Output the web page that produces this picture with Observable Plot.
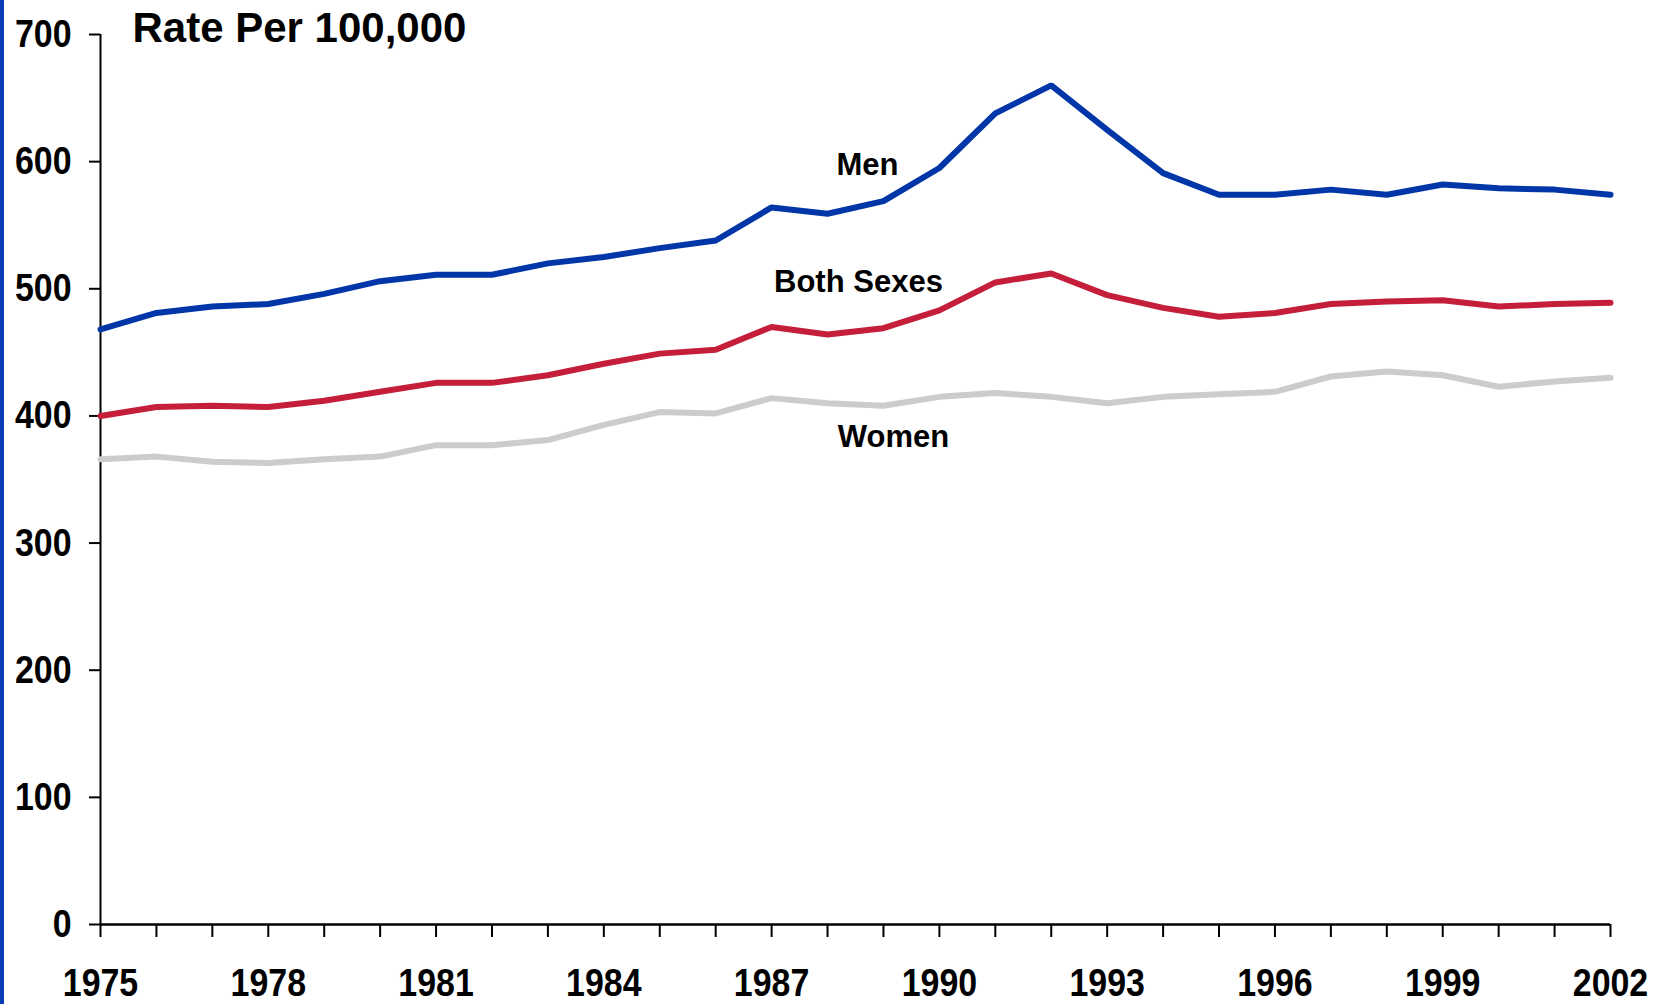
<!DOCTYPE html>
<html>
<head>
<meta charset="utf-8">
<script src="https://cdn.jsdelivr.net/npm/d3@7"></script>
<script src="https://cdn.jsdelivr.net/npm/@observablehq/plot@0.6"></script>
<style>
  html, body { margin: 0; padding: 0; background: #fff; }
  #wrap { position: relative; width: 1669px; height: 1004px; overflow: hidden; }
  #bar { position: absolute; left: 0; top: 0; width: 4px; height: 1004px; background: #0a3cb4; }
  #chart { position: absolute; left: 0; top: 0; }
</style>
</head>
<body>
<div id="wrap"><div id="bar"></div><div id="chart"></div></div>
<script>
const years = d3.range(1975, 2003);
const men   = [468,481,486,488,496,506,511,511,520,525,532,538,564,559,569,595,638,660,625,591,574,574,578,574,582,579,578,574];
const both  = [400,407,408,407,412,419,426,426,432,441,449,452,470,464,469,483,505,512,495,485,478,481,488,490,491,486,488,489];
const women = [366,368,364,363,366,368,377,377,381,393,403,402,414,410,408,415,418,415,410,415,417,419,431,435,432,423,427,430];
const seriesNames = ["Men", "Both Sexes", "Women"];
const yTicks = [0, 100, 200, 300, 400, 500, 600, 700];
const titleText = "Rate Per 100,000";
const labelYear = 1989;

const seriesValues = [men, both, women];
const colors = {"Men": "#0036a8", "Both Sexes": "#c41e3a", "Women": "#cccccc"};
const labelOffsets = {"Men": [-16, -26], "Both Sexes": [-25, -36], "Women": [10, 41]};

const rows = [];
seriesNames.forEach((s, i) => years.forEach((yr, j) => rows.push({series: s, year: yr, value: seriesValues[i][j]})));
const labelRows = seriesNames.map((s, i) => ({series: s, year: labelYear, value: seriesValues[i][years.indexOf(labelYear)]}));

const sans = "'Liberation Sans', Arial, Helvetica, sans-serif";
const tickFont = 39;
const condense = 0.87;

const chart = Plot.plot({
  width: 1669,
  height: 1004,
  marginLeft: 100,
  marginRight: 59,
  marginTop: 34,
  marginBottom: 80,
  style: {background: "transparent", color: "#000", overflow: "visible"},
  x: {domain: [1975, 2002], type: "linear"},
  y: {domain: [0, 700]},
  marks: [
    Plot.axisY({ticks: yTicks, tickSize: 11, tickPadding: 18, tickFormat: d => String(d),
      fontSize: tickFont, fontWeight: "bold", fontFamily: sans, stroke: "#000", strokeWidth: 2, label: null}),
    Plot.axisX({ticks: years, tickSize: 13, tickPadding: 31, tickFormat: d => ((d - 1975) % 3 === 0 ? String(d) : ""),
      fontSize: tickFont, fontWeight: "bold", fontFamily: sans, stroke: "#000", strokeWidth: 2, label: null}),
    Plot.ruleX([1975], {y1: 0, y2: 700, stroke: "#000", strokeWidth: 2}),
    Plot.ruleY([0], {stroke: "#000", strokeWidth: 2.5}),
    ...seriesNames.slice().reverse().map(s =>
      Plot.line(rows.filter(r => r.series === s), {x: "year", y: "value", stroke: colors[s], strokeWidth: 6, strokeLinejoin: "miter", strokeLinecap: "round"})
    ),
    ...labelRows.map(r =>
      Plot.text([r], {x: "year", y: "value", text: "series", dx: labelOffsets[r.series][0], dy: labelOffsets[r.series][1],
        lineAnchor: "bottom", textAnchor: "middle", fontSize: 31, fontWeight: "bold", fontFamily: sans, fill: "#000"})
    ),
    Plot.text([titleText], {frameAnchor: "top-left", text: d => d, dx: 32, dy: 7, lineAnchor: "bottom", textAnchor: "start",
      fontSize: 42, fontWeight: "bold", fontFamily: sans, fill: "#000"})
  ]
});

// condense tick labels horizontally (the reference uses a narrow bold face)
d3.select(chart).selectAll("g[aria-label='x-axis tick label'] text, g[aria-label='y-axis tick label'] text").each(function() {
  const t = this.getAttribute("transform");
  if (t) {
    this.setAttribute("transform", t + ` scale(${condense},1)`);
  } else {
    const x = +(this.getAttribute("x") || 0), y = +(this.getAttribute("y") || 0);
    this.removeAttribute("x"); this.removeAttribute("y");
    this.setAttribute("transform", `translate(${x},${y}) scale(${condense},1)`);
  }
});

document.getElementById("chart").appendChild(chart);
</script>
</body>
</html>
